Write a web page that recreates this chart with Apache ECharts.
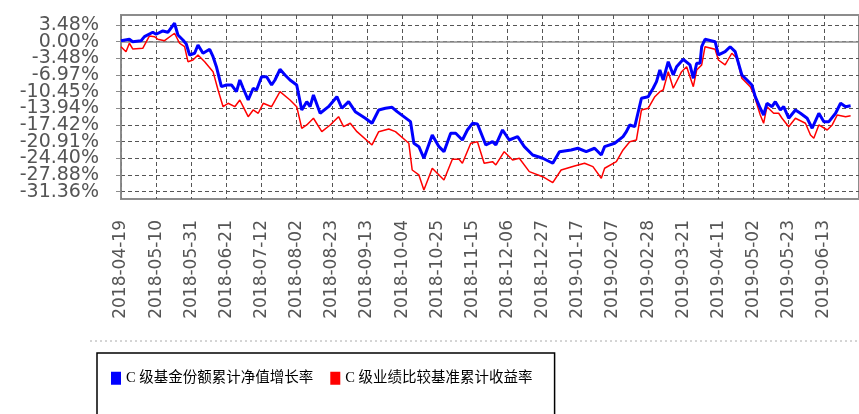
<!DOCTYPE html>
<html><head><meta charset="utf-8">
<script src="https://cdn.jsdelivr.net/npm/echarts@6/dist/echarts.min.js"></script>
<style>html,body{margin:0;padding:0;background:#fff}#c{width:859px;height:414px}</style>
</head><body><div id="c"></div>
<script>
// X tick labels (every 21 calendar days from 2018-04-19)
const xTickLabels = ['2018-04-19','2018-05-10','2018-05-31','2018-06-21','2018-07-12','2018-08-02','2018-08-23','2018-09-13','2018-10-04','2018-10-25','2018-11-15','2018-12-06','2018-12-27','2019-01-17','2019-02-07','2019-02-28','2019-03-21','2019-04-11','2019-05-02','2019-05-23','2019-06-13'];
// Y tick labels, bottom to top (equally spaced, step 3.4844%)
const yTickLabels = ['-31.36%','-27.88%','-24.40%','-20.91%','-17.42%','-13.94%','-10.45%','-6.97%','-3.48%','0.00%','3.48%'];
const seriesNames = ['C 级基金份额累计净值增长率','C 级业绩比较基准累计收益率'];

// Days since 2018-04-19, and values in %
const blueDays = [0,5,7,12,14,19,21,25,28,32,34,37,39,41,44,46,49,53,55,57,60,63,66,69,71,73,76,79,81,84,87,90,92,95,98,101,105,108,111,113,115,119,124,129,132,136,140,146,150,154,158,162,165,173,175,178,181,186,190,193,197,200,204,207,210,213,218,222,224,228,232,237,241,246,252,258,262,269,273,278,283,287,289,295,300,302,304,307,311,315,318,320,322,324,327,330,332,336,340,342,344,346,347,349,355,357,361,364,367,371,375,377,379,382,384,386,389,391,394,396,399,403,406,410,413,417,420,423,427,430,433,436];
const blueValues = [0.21,0.50,0,0.21,1.05,1.96,1.55,2.24,1.96,3.85,1.40,0.36,-0.48,-2.78,-2.42,-0.69,-2.42,-1.59,-3.14,-5.23,-9.41,-9.05,-9.05,-10.45,-8.01,-9.74,-12.19,-9.74,-10.10,-7.32,-7.32,-9.05,-8.01,-5.77,-6.96,-8.01,-9.05,-14.28,-12.54,-13.59,-11.14,-14.97,-13.59,-11.50,-13.92,-12.54,-14.63,-16.01,-17.06,-14.28,-13.92,-13.71,-14.63,-16.72,-21.24,-21.95,-24.37,-19.50,-21.95,-22.99,-19.15,-19.15,-20.55,-18.46,-17.06,-17.20,-21.59,-20.90,-21.59,-18.46,-20.55,-19.86,-21.95,-23.68,-24.37,-25.42,-22.99,-22.64,-22.28,-22.99,-22.28,-23.68,-21.95,-21.24,-19.86,-18.81,-17.41,-17.77,-11.83,-11.50,-9.74,-8.36,-5.92,-8.01,-4.18,-6.96,-5.23,-3.68,-4.87,-7.65,-4.51,-4.51,-1.05,0.50,0,-2.78,-2.09,-1.05,-2.09,-6.96,-8.36,-9.05,-11.50,-13.92,-15.32,-12.88,-13.59,-12.54,-14.28,-13.59,-16.01,-14.28,-14.97,-16.01,-18.10,-14.97,-16.72,-16.72,-14.97,-12.88,-13.59,-13.40];
const redDays = [0,3,5,7,13,17,20,22,26,32,35,38,40,43,46,50,55,58,61,64,68,71,73,76,79,82,85,90,95,101,105,108,111,115,120,125,130,133,137,141,150,154,160,164,172,174,178,181,186,193,198,202,204,209,213,217,222,224,229,234,238,244,252,258,263,271,277,282,287,289,296,300,304,308,311,315,319,322,324,327,330,335,338,342,344,347,349,355,357,361,365,368,371,376,378,382,384,386,390,393,395,399,403,409,412,414,417,422,425,428,433,436];
const redValues = [-1.05,-2.09,-0.33,-1.53,-1.38,1.19,1.05,0.50,0.21,1.76,-0.33,-1.05,-4.18,-3.83,-2.78,-4.18,-6.27,-10.10,-13.59,-12.88,-13.59,-12.19,-13.59,-15.68,-14.28,-14.97,-12.88,-13.59,-10.45,-12.19,-13.59,-18.10,-17.41,-16.01,-18.81,-17.41,-15.68,-17.77,-17.06,-18.81,-21.59,-18.81,-18.25,-18.81,-21.24,-26.82,-27.86,-31.00,-26.46,-28.91,-24.58,-24.58,-25.42,-21.24,-20.90,-25.42,-25.08,-25.77,-22.99,-24.73,-24.37,-27.17,-28.22,-29.47,-26.82,-25.98,-25.42,-26.13,-28.55,-26.46,-25.08,-22.64,-20.90,-20.55,-14.28,-13.92,-11.50,-10.45,-10.10,-6.27,-9.74,-6.27,-5.23,-9.41,-5.92,-4.87,-1.05,-1.59,-3.83,-4.87,-2.42,-3.47,-7.65,-9.41,-10.79,-15.32,-17.06,-13.59,-14.97,-14.97,-16.01,-17.77,-16.01,-17.06,-19.50,-20.19,-17.41,-18.46,-17.41,-15.32,-15.68,-15.50];

// Layout
const W = 859, H = 414;
const X_STEP = 21, X_MAX = 21 * 21;
const Y_STEP = 31.36 / 9;
const gridLeft = 121, pxPerDay = 1.7024;
const gridRight = W - (gridLeft + X_MAX * pxPerDay);
const boxTop = 15, boxBottom = 199, tickTop = 25, tickBottom = 191.7;
const pxPerUnit = (tickBottom - tickTop) / (10 * Y_STEP);
const dataMax = Y_STEP + (tickTop - boxTop) / pxPerUnit;
const dataMin = -9 * Y_STEP - (boxBottom - tickBottom) / pxPerUnit;

const zip = (a, b) => a.map((d, i) => [d, b[i]]);
const grey = '#8c8c8c';
const dash = {type: [4, 3], color: '#555', width: 1};

const chart = echarts.init(document.getElementById('c'), null, {renderer: 'canvas'});
chart.setOption({
  animation: false,
  backgroundColor: '#fff',
  grid: [
    {left: gridLeft, right: gridRight, top: boxTop, bottom: H - boxBottom, show: true, borderColor: grey, borderWidth: 2, backgroundColor: 'transparent'},
    {left: gridLeft, right: gridRight, top: tickTop, bottom: H - tickBottom}
  ],
  xAxis: [
    {gridIndex: 0, type: 'value', min: 0, max: X_MAX, interval: X_STEP, position: 'bottom', offset: 9,
     axisLine: {show: true, lineStyle: {color: grey, width: 1.5}},
     axisTick: {show: true, length: 4, lineStyle: {color: grey}},
     axisLabel: {rotate: 90, margin: 12, fontFamily: 'DejaVu Sans', fontSize: 17, color: '#555', hideOverlap: false,
       formatter: v => { const i = v / X_STEP; return Math.abs(i - Math.round(i)) < 1e-6 ? (xTickLabels[Math.round(i)] || '') : ''; }},
     splitLine: {show: true, lineStyle: dash}},
    {gridIndex: 1, type: 'value', min: 0, max: X_MAX, show: false}
  ],
  yAxis: [
    {gridIndex: 0, type: 'value', min: dataMin, max: dataMax, position: 'left', offset: 8,
     axisLine: {show: true, lineStyle: {color: grey, width: 1.5}},
     axisTick: {show: false}, axisLabel: {show: false}, splitLine: {show: false}},
    {gridIndex: 1, type: 'category', data: yTickLabels, boundaryGap: false, position: 'left', offset: 8,
     axisLine: {show: false},
     axisTick: {show: true, interval: 0, length: 5, lineStyle: {color: grey}},
     axisLabel: {interval: 0, margin: 14, fontFamily: 'DejaVu Sans', fontSize: 19, color: '#555'},
     splitLine: {show: true, interval: 0, lineStyle: dash}}
  ],
  legend: {
    left: 97, top: 353, orient: 'horizontal',
    padding: [18, 22, 60, 14], borderColor: '#000', borderWidth: 1.5,
    itemWidth: 10, itemHeight: 13, itemGap: 17, icon: 'rect',
    textStyle: {fontFamily: "'Liberation Serif','Noto Sans CJK SC'", fontSize: 14.5, color: '#000'},
    data: seriesNames
  },
  graphic: [
    {type: 'line', shape: {x1: 90, y1: 341, x2: W, y2: 341}, style: {stroke: '#aaa', lineDash: [2, 3], lineWidth: 1}, silent: true}
  ],
  series: [
    {name: seriesNames[0], type: 'line', xAxisIndex: 0, yAxisIndex: 0, data: zip(blueDays, blueValues),
     showSymbol: false, lineStyle: {color: '#0000ff', width: 3}, itemStyle: {color: '#0000ff'}, z: 4},
    {name: seriesNames[1], type: 'line', xAxisIndex: 0, yAxisIndex: 0, data: zip(redDays, redValues),
     showSymbol: false, lineStyle: {color: '#ff0000', width: 1.5}, itemStyle: {color: '#ff0000'}, z: 3}
  ]
});
</script></body></html>
